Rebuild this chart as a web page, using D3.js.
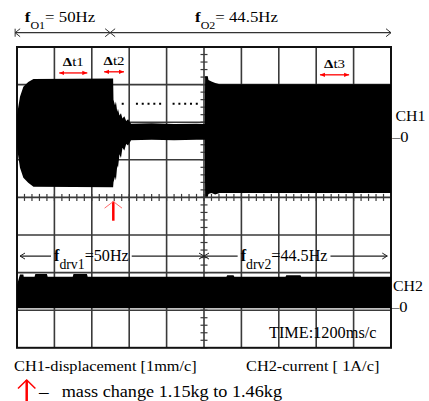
<!DOCTYPE html>
<html>
<head>
<meta charset="utf-8">
<script src="https://cdn.jsdelivr.net/npm/d3@7"></script>
<style>
  body { margin: 0; background: #fff; }
  svg { display: block; }
  text { font-family: "Liberation Serif", "Times New Roman", serif; fill: #000; }
</style>
</head>
<body>
<svg id="scope" width="429" height="401"></svg>
<script>
// time axis in divisions (1200 ms/div), amplitude in screen divisions from the centre line
const ch1Time   = [0.00, 0.035, 0.08, 0.17, 0.30, 0.44, 2.57, 2.58, 2.62, 2.645, 2.68, 2.70, 2.74, 2.78, 2.82, 2.87, 2.92, 2.97, 3.05, 3.6, 4.2, 4.8, 5.02, 5.03, 5.10, 5.12, 5.20, 5.30, 5.42, 10]
const ch1Top    = [2.19, 2.41, 2.68, 2.94, 3.07, 3.15, 3.16, 2.60, 2.45, 2.55, 2.28, 2.36, 2.18, 2.24, 2.10, 2.16, 2.03, 2.08, 1.96, 1.97, 1.95, 1.96, 1.95, 3.22, 3.22, 3.12, 3.08, 3.04, 3.01, 3.01]
const ch1Bottom = [1.34, 1.08, 0.79, 0.52, 0.39, 0.28, 0.27, 0.40, 0.55, 0.45, 0.85, 0.78, 1.15, 1.05, 1.32, 1.25, 1.42, 1.38, 1.52, 1.53, 1.52, 1.53, 1.53, 0.02, 0.02, 0.09, 0.12, 0.08, 0.12, 0.12]

const ch2Time  = [0, 0.06, 0.08, 0.17, 0.18, 0.47, 0.49, 0.80, 0.82, 1.49, 1.51, 1.87, 1.89, 5.60, 5.62, 5.79, 5.81, 7.18, 7.20, 7.58, 7.60, 10]
const ch2Top   = [-2.33, -2.12, -2.05, -2.05, -2.11, -2.11, -2.04, -2.04, -2.11, -2.11, -2.04, -2.04, -2.11, -2.11, -2.07, -2.07, -2.11, -2.11, -2.07, -2.07, -2.11, -2.11]
const ch2Floor = -2.95

// steady level marker (dotted) after the mass change
const dotLevel = 2.49
const dotRuns = [[2.80, 2.82], [3.18, 3.82], [4.16, 4.84]]

const deltaNames = ['t1', 't2', 't3']
const deltaFrom  = [1.13, 2.33, 8.10]
const deltaTo    = [1.88, 2.86, 8.88]
const deltaLevel = [3.31, 3.34, 3.26]

const massChangeAt = 2.575

const natSub   = ['O1', 'O2']
const natText  = ['= 50Hz', '= 44.5Hz']
const natFrom  = [-0.05, 2.49]
const natTo    = [2.49, 10]
const natLabelAt = [0.21, 4.76]

const drvSub   = ['drv1', 'drv2']
const drvText  = ['=50Hz', '=44.5Hz']
const drvFrom  = [0.08, 5.0]
const drvTo    = [5.0, 9.9]
const drvLabelAt = [0.99, 5.98]

const svg = d3.select('#scope')

const x = d3.scaleLinear().domain([0, 10]).range([17, 391])
const y = d3.scaleLinear().domain([-4, 4]).range([347.8, 47])

// grid
const grid = svg.append('g')
grid.selectAll('line.v')
  .data(d3.range(1, 10))
  .join('line')
  .attr('x1', d => x(d)).attr('x2', d => x(d))
  .attr('y1', y(4)).attr('y2', y(-4))
  .style('stroke', '#3a3a3a').style('stroke-width', 1.6)
grid.selectAll('line.h')
  .data(d3.range(-3, 4))
  .join('line')
  .attr('y1', d => y(d)).attr('y2', d => y(d))
  .attr('x1', x(0)).attr('x2', x(10))
  .style('stroke', '#3a3a3a').style('stroke-width', 1.6)

// minor ticks on the centre axes
grid.selectAll('line.tx')
  .data(d3.range(0, 10.001, 0.2))
  .join('line')
  .attr('x1', d => x(d)).attr('x2', d => x(d))
  .attr('y1', y(0) - 3.5).attr('y2', y(0) + 3.5)
  .style('stroke', '#3a3a3a').style('stroke-width', 1.2)
grid.selectAll('line.ty')
  .data(d3.range(-4, 4.001, 0.2))
  .join('line')
  .attr('y1', d => y(d)).attr('y2', d => y(d))
  .attr('x1', x(5) - 3.5).attr('x2', x(5) + 3.5)
  .style('stroke', '#3a3a3a').style('stroke-width', 1.2)

grid.append('rect')
  .attr('x', x(0)).attr('y', y(4))
  .attr('width', x(10) - x(0)).attr('height', y(-4) - y(4))
  .style('fill', 'none').style('stroke', '#111').style('stroke-width', 2)

// channel envelopes
const ch1 = ch1Time.map((t, i) => ({ t, top: ch1Top[i], bottom: ch1Bottom[i] }))
svg.append('path')
  .datum(ch1)
  .attr('d', d3.area().x(d => x(d.t)).y0(d => y(d.bottom)).y1(d => y(d.top)))
  .style('fill', '#000')

const ch2 = ch2Time.map((t, i) => ({ t, top: ch2Top[i] }))
svg.append('path')
  .datum(ch2)
  .attr('d', d3.area().x(d => x(d.t)).y0(y(ch2Floor)).y1(d => y(d.top)))
  .style('fill', '#000')

svg.selectAll('line.dots')
  .data(dotRuns)
  .join('line')
  .attr('x1', d => x(d[0])).attr('x2', d => x(d[1]) + 2)
  .attr('y1', y(dotLevel)).attr('y2', y(dotLevel))
  .style('stroke', '#000').style('stroke-width', 2)
  .style('stroke-dasharray', '2,3.8')

// helpers
function label(px, py, parts, sx = 1, anchor = 'start', fill = '#000') {
  const outer = svg.append('g')
  const txt = outer.append('g')
    .attr('transform', `translate(${px},${py}) scale(${sx},1)`)
    .append('text')
    .attr('text-anchor', anchor)
    .style('fill', fill)
  let shift = 0
  parts.forEach(p => {
    const sub = p.sub || 0
    txt.append('tspan')
      .attr('dy', sub - shift)
      .attr('font-size', p.size)
      .attr('font-weight', p.bold ? 'bold' : null)
      .text(p.text)
    shift = sub
  })
  return outer
}

function chevron(px, py, dir, len, half, color, width) {
  svg.append('path')
    .attr('d', `M${px - dir * len},${py - half}L${px},${py}L${px - dir * len},${py + half}`)
    .style('fill', 'none').style('stroke', color).style('stroke-width', width)
}

// red double arrows for the time intervals
svg.append('defs').append('marker')
  .attr('id', 'rh')
  .attr('viewBox', '0 0 6 6')
  .attr('refX', 6).attr('refY', 3)
  .attr('markerWidth', 5).attr('markerHeight', 5)
  .attr('markerUnits', 'userSpaceOnUse')
  .attr('orient', 'auto-start-reverse')
  .append('path').attr('d', 'M0,0.4L6,3L0,5.6Z').style('fill', '#f00')

deltaNames.forEach((name, i) => {
  svg.append('line')
    .attr('x1', x(deltaFrom[i])).attr('x2', x(deltaTo[i]))
    .attr('y1', y(deltaLevel[i])).attr('y2', y(deltaLevel[i]))
    .attr('marker-start', 'url(#rh)').attr('marker-end', 'url(#rh)')
    .style('stroke', '#f00').style('stroke-width', 1.3)
  label((x(deltaFrom[i]) + x(deltaTo[i])) / 2, y(deltaLevel[i]) - 6.5,
    [{ text: 'Δ', size: 13, bold: true }, { text: name, size: 13 }], 1.15, 'middle')
})

// mass change marker
svg.append('line')
  .attr('x1', x(massChangeAt)).attr('x2', x(massChangeAt))
  .attr('y1', y(-0.11)).attr('y2', y(-0.62))
  .style('stroke', '#f00').style('stroke-width', 2.5)
chevron(x(massChangeAt), y(-0.11), 0, 0, 0, '#f00', 0)
svg.append('path')
  .attr('d', `M${x(massChangeAt) - 8.7},${y(-0.11) + 6.6}L${x(massChangeAt)},${y(-0.11)}L${x(massChangeAt) + 8.7},${y(-0.11) + 6.6}`)
  .style('fill', 'none').style('stroke', '#ff6a6a').style('stroke-width', 1)

// natural frequency spans above the screen
natSub.forEach((s, i) => {
  const ly = y(4.38)
  svg.append('line')
    .attr('x1', x(natFrom[i])).attr('x2', x(natTo[i]))
    .attr('y1', ly).attr('y2', ly)
    .style('stroke', '#333').style('stroke-width', 1.3)
  chevron(x(natFrom[i]), ly, -1, 5, 4, '#333', 1)
  chevron(x(natTo[i]), ly, 1, 5, 4, '#333', 1)
  label(x(natLabelAt[i]), y(4.66), [
    { text: 'f', size: 14, bold: true },
    { text: s, size: 10, sub: 7.3 },
    { text: natText[i], size: 14 }
  ], 1.2)
})
svg.append('line')
  .attr('x1', x(natFrom[0])).attr('x2', x(natFrom[0]))
  .attr('y1', y(4.38) - 4).attr('y2', y(4.38) + 4)
  .style('stroke', '#333').style('stroke-width', 1)

// drive frequency spans
drvSub.forEach((s, i) => {
  const ly = y(-1.56)
  const g = label(x(drvLabelAt[i]), y(-1.7), [
    { text: 'f', size: 17, bold: true },
    { text: s, size: 14.5, sub: 8 },
    { text: drvText[i], size: 17 }
  ], 0.95)
  const b = g.node().getBBox()
  svg.selectAll(null)
    .data([[x(drvFrom[i]), b.x - 3], [b.x + b.width + 3, x(drvTo[i])]])
    .join('line')
    .attr('x1', d => d[0]).attr('x2', d => d[1])
    .attr('y1', ly).attr('y2', ly)
    .style('stroke', '#222').style('stroke-width', 1.2)
  chevron(x(drvFrom[i]), ly, -1, 5, 3, '#222', 1)
  chevron(x(drvTo[i]), ly, 1, 5, 3, '#222', 1)
})

// channel labels on the right
label(x(10) + 4.5, y(2.03), [{ text: 'CH1', size: 15 }], 1.06)
label(x(10) + 1, y(1.47), [{ text: '–0', size: 15 }], 1.1)
label(x(10) + 2, y(-2.50), [{ text: 'CH2', size: 15 }], 1.06)
label(x(10) + 0, y(-3.04), [{ text: '–0', size: 15 }], 1.1)

label(269, 337.5, [{ text: 'TIME:1200ms/c', size: 17.5 }], 0.93)

// captions
label(14, 370.5, [{ text: 'CH1-displacement [1mm/c]', size: 15 }], 1.09)
label(246, 370.5, [{ text: 'CH2-current [ 1A/c]', size: 15 }], 1.09)
label(39, 397, [{ text: '–', size: 17.5 }], 1.1)
label(61.7, 397, [{ text: 'mass change 1.15kg to 1.46kg', size: 17.5 }], 1.04)

svg.append('line')
  .attr('x1', 26.7).attr('x2', 26.7).attr('y1', 380).attr('y2', 401)
  .style('stroke', '#f00').style('stroke-width', 2.5)
svg.append('path')
  .attr('d', 'M18,388.5L26.7,380L35.4,388.5')
  .style('fill', 'none').style('stroke', '#f00').style('stroke-width', 1.5)
</script>
</body>
</html>
